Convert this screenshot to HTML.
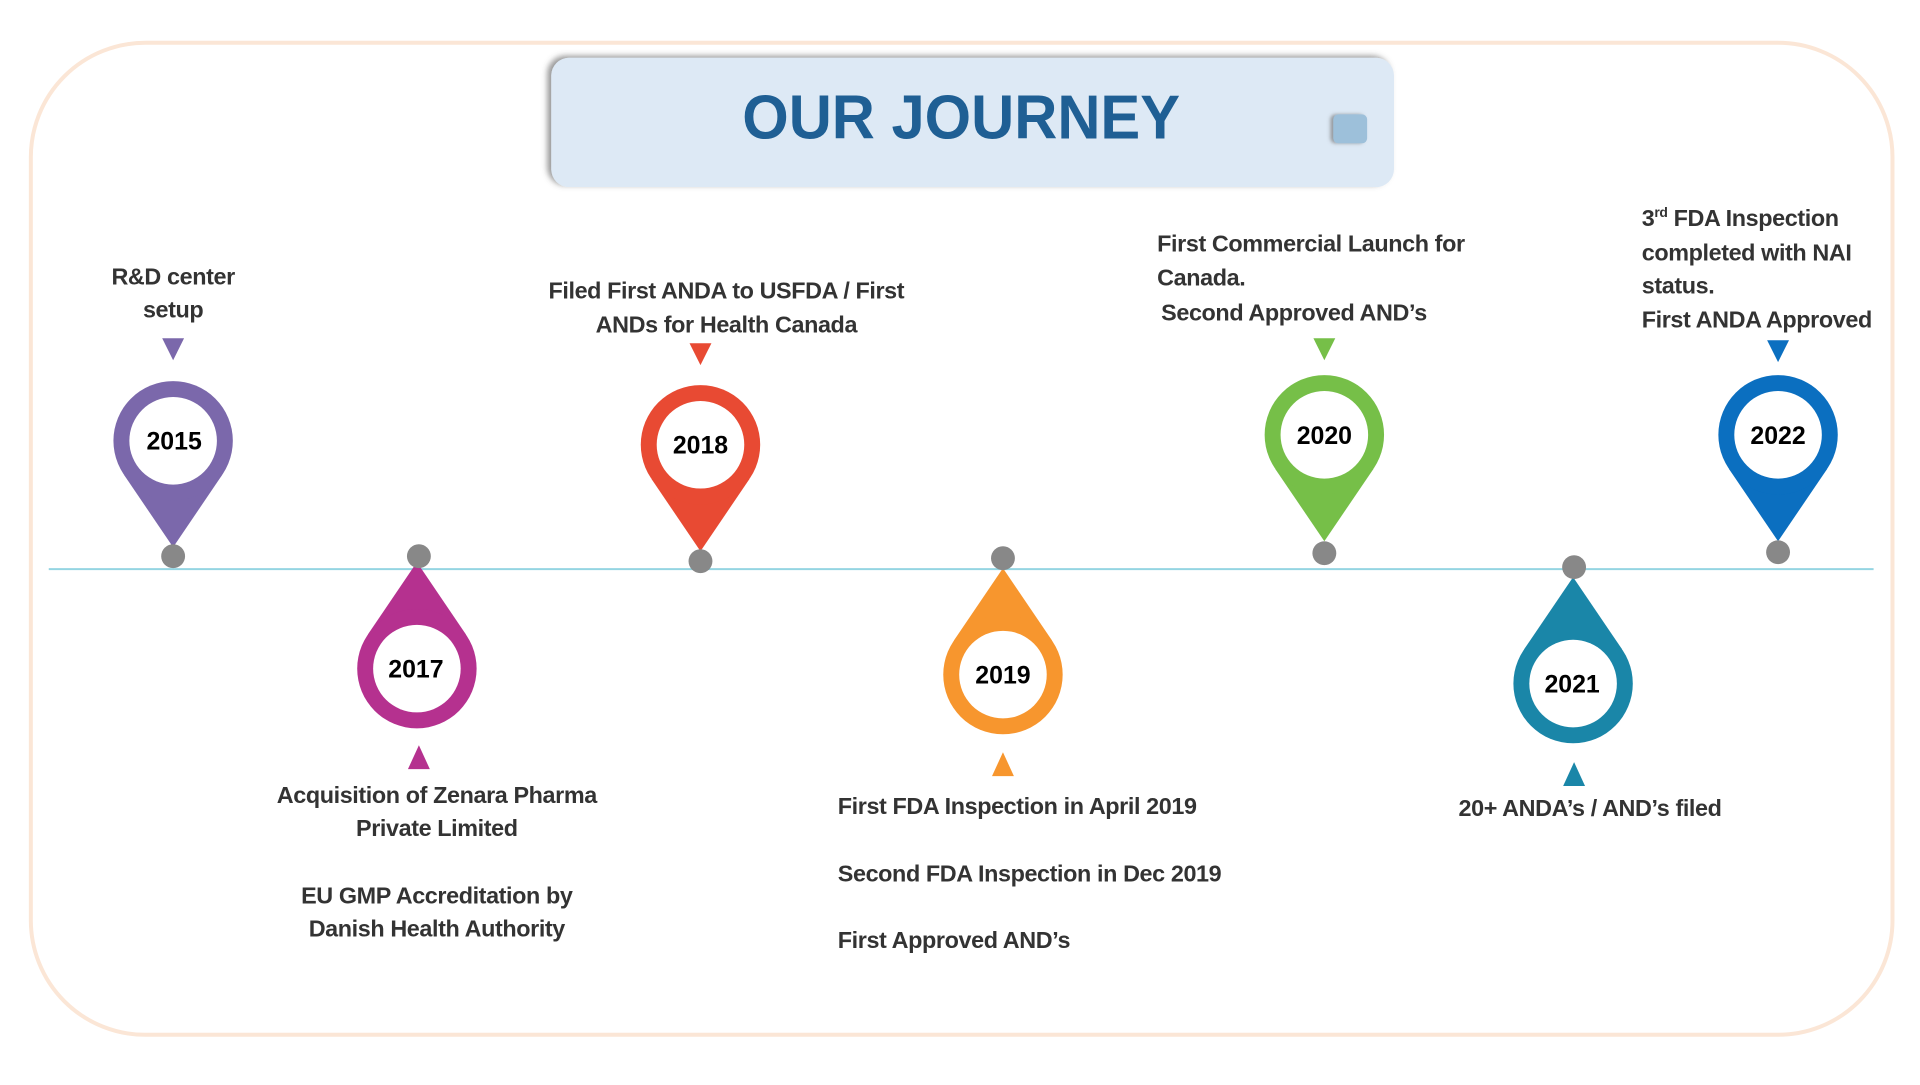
<!DOCTYPE html>
<html><head><meta charset="utf-8"><style>
html,body{margin:0;padding:0;background:#fff;}
svg text{font-family:"Liberation Sans",sans-serif;font-weight:bold;}
</style></head><body>
<svg width="1920" height="1080" viewBox="0 0 1920 1080" xmlns="http://www.w3.org/2000/svg">
<defs>
<filter id="sh" x="-5%" y="-20%" width="110%" height="140%"><feDropShadow dx="-4" dy="-2" stdDeviation="3" flood-color="#555" flood-opacity="0.6"/></filter>
<filter id="sh2" x="-50%" y="-50%" width="200%" height="200%"><feDropShadow dx="-3" dy="0" stdDeviation="2" flood-color="#666" flood-opacity="0.6"/></filter>
</defs>
<g transform="scale(0.995 0.995)">
<rect x="31" y="43" width="1871" height="997" rx="115" fill="none" stroke="#fbe6d6" stroke-width="4"/>
<rect x="554" y="58" width="847" height="130" rx="18" fill="#dde9f5" filter="url(#sh)"/>
<text x="966" y="139" text-anchor="middle" font-size="62" fill="#1f5f94" textLength="440" lengthAdjust="spacingAndGlyphs">OUR JOURNEY</text>
<rect x="1340" y="115" width="34" height="29" rx="5" fill="#9dc0da" filter="url(#sh2)"/>
<line x1="49" y1="572" x2="1883" y2="572" stroke="#94d5e2" stroke-width="2"/>

<g transform="translate(174,443)"><path d="M-49.3 34.3 L0 107 L49.3 34.3 Z" fill="#7b68ab"/><circle r="60" fill="#7b68ab"/><circle r="44" fill="#fff"/></g>
<g transform="translate(704,447)"><path d="M-49.3 34.3 L0 107 L49.3 34.3 Z" fill="#e84a33"/><circle r="60" fill="#e84a33"/><circle r="44" fill="#fff"/></g>
<g transform="translate(1331,437)"><path d="M-49.3 34.3 L0 107 L49.3 34.3 Z" fill="#76bf48"/><circle r="60" fill="#76bf48"/><circle r="44" fill="#fff"/></g>
<g transform="translate(1787,437)"><path d="M-49.3 34.3 L0 107 L49.3 34.3 Z" fill="#0b6fc0"/><circle r="60" fill="#0b6fc0"/><circle r="44" fill="#fff"/></g>
<g transform="translate(419,672) rotate(180)"><path d="M-49.3 34.3 L0 107 L49.3 34.3 Z" fill="#b5318f"/><circle r="60" fill="#b5318f"/><circle r="44" fill="#fff"/></g>
<g transform="translate(1008,678) rotate(180)"><path d="M-49.3 34.3 L0 107 L49.3 34.3 Z" fill="#f7962e"/><circle r="60" fill="#f7962e"/><circle r="44" fill="#fff"/></g>
<g transform="translate(1581,687) rotate(180)"><path d="M-49.3 34.3 L0 107 L49.3 34.3 Z" fill="#1a86a8"/><circle r="60" fill="#1a86a8"/><circle r="44" fill="#fff"/></g>
<g fill="#888">
<ellipse cx="174" cy="559" rx="12" ry="12"/>
<ellipse cx="704" cy="564" rx="12" ry="12"/>
<ellipse cx="1331" cy="556" rx="12" ry="12"/>
<ellipse cx="1787" cy="555" rx="12" ry="12"/>
<ellipse cx="421" cy="559" rx="12" ry="12"/>
<ellipse cx="1008" cy="561" rx="12" ry="12"/>
<ellipse cx="1582" cy="570" rx="12" ry="12"/>
</g>
<g font-size="25" fill="#000" text-anchor="middle">
<text x="175" y="452">2015</text>
<text x="704" y="456">2018</text>
<text x="1331" y="446">2020</text>
<text x="1787" y="446">2022</text>
<text x="418" y="681">2017</text>
<text x="1008" y="687">2019</text>
<text x="1580" y="696">2021</text>
</g>
<path d="M163 340 L185 340 L174 362 Z" fill="#7b68ab"/>
<path d="M693 345 L715 345 L704 367 Z" fill="#e84a33"/>
<path d="M1320 340 L1342 340 L1331 362 Z" fill="#76bf48"/>
<path d="M1776 342 L1798 342 L1787 364 Z" fill="#0b6fc0"/>
<path d="M410 773 L432 773 L421 749 Z" fill="#b5318f"/>
<path d="M997 780 L1019 780 L1008 756 Z" fill="#f7962e"/>
<path d="M1571 790 L1593 790 L1582 766 Z" fill="#1a86a8"/>
<g font-size="23.5" fill="#333" letter-spacing="-0.4">
<text x="174" y="286" text-anchor="middle">R&amp;D center</text>
<text x="174" y="319" text-anchor="middle">setup</text>
<text x="730" y="300" text-anchor="middle">Filed First ANDA to USFDA / First</text>
<text x="730" y="334" text-anchor="middle">ANDs for Health Canada</text>
<text x="1163" y="253">First Commercial Launch for</text>
<text x="1163" y="287">Canada.</text>
<text x="1167" y="322"> Second Approved AND’s</text>
<text x="1650" y="227">3<tspan font-size="14" dy="-9">rd</tspan><tspan dy="9"> FDA Inspection</tspan></text>
<text x="1650" y="262">completed with NAI</text>
<text x="1650" y="295">status.</text>
<text x="1650" y="329">First ANDA Approved</text>
<text x="439" y="807" text-anchor="middle">Acquisition of Zenara Pharma</text>
<text x="439" y="840" text-anchor="middle">Private Limited</text>
<text x="439" y="908" text-anchor="middle">EU GMP Accreditation by</text>
<text x="439" y="941" text-anchor="middle">Danish Health Authority</text>
<text x="842" y="818">First FDA Inspection in April 2019</text>
<text x="842" y="886">Second FDA Inspection in Dec 2019</text>
<text x="842" y="953">First Approved AND’s</text>
<text x="1598" y="820" text-anchor="middle">20+ ANDA’s / AND’s filed</text>
</g>
</g>
</svg>
</body></html>
